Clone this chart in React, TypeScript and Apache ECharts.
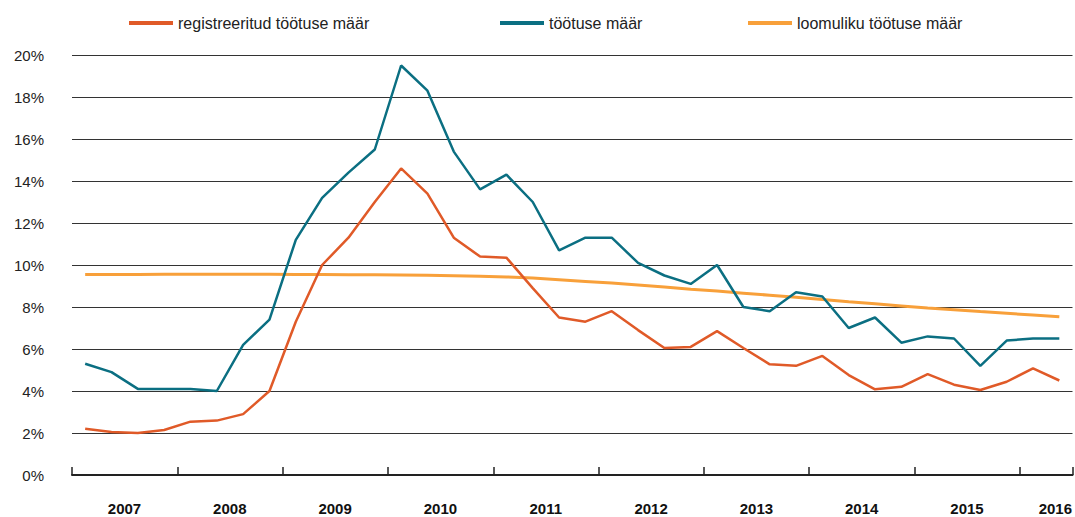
import React, { useEffect, useRef } from "react";
import * as echarts from "echarts";

const categories = [
  "2007 Q1", "2007 Q2", "2007 Q3", "2007 Q4",
  "2008 Q1", "2008 Q2", "2008 Q3", "2008 Q4",
  "2009 Q1", "2009 Q2", "2009 Q3", "2009 Q4",
  "2010 Q1", "2010 Q2", "2010 Q3", "2010 Q4",
  "2011 Q1", "2011 Q2", "2011 Q3", "2011 Q4",
  "2012 Q1", "2012 Q2", "2012 Q3", "2012 Q4",
  "2013 Q1", "2013 Q2", "2013 Q3", "2013 Q4",
  "2014 Q1", "2014 Q2", "2014 Q3", "2014 Q4",
  "2015 Q1", "2015 Q2", "2015 Q3", "2015 Q4",
  "2016 Q1", "2016 Q2",
];

const registeredUnemployment = [
  2.2, 2.05, 2.0, 2.14, 2.54, 2.59, 2.9, 4.0,
  7.3, 10.0, 11.3, 13.0, 14.6, 13.4, 11.3, 10.4,
  10.35, 8.9, 7.5, 7.3, 7.8, 6.9, 6.05, 6.1,
  6.85, 6.05, 5.27, 5.2, 5.67, 4.76, 4.08, 4.2,
  4.8, 4.3, 4.05, 4.44, 5.08, 4.5,
];

const unemployment = [
  5.3, 4.9, 4.1, 4.1, 4.1, 4.0, 6.2, 7.4,
  11.2, 13.2, 14.4, 15.5, 19.5, 18.3, 15.4, 13.6,
  14.3, 13.0, 10.7, 11.3, 11.3, 10.1, 9.5, 9.1,
  10.0, 8.0, 7.8, 8.7, 8.5, 7.0, 7.5, 6.3,
  6.6, 6.5, 5.2, 6.4, 6.5, 6.5,
];

const naturalUnemployment = [
  9.55, 9.55, 9.55, 9.56, 9.56, 9.56, 9.56, 9.56,
  9.55, 9.55, 9.54, 9.53, 9.52, 9.51, 9.49, 9.46,
  9.43, 9.38, 9.3, 9.22, 9.14, 9.05, 8.95, 8.85,
  8.76, 8.66, 8.56, 8.46, 8.36, 8.25, 8.15, 8.05,
  7.95, 7.87, 7.78, 7.7, 7.62, 7.54,
];

const seriesNames = [
  "registreeritud töötuse määr",
  "töötuse määr",
  "loomuliku töötuse määr",
];

const colors = ["#E05A28", "#0B6F82", "#F8A03A"];
const FONT = "'Liberation Sans', Arial, Helvetica, sans-serif";

export default function App() {
  const ref = useRef<HTMLDivElement>(null);

  useEffect(() => {
    if (!ref.current) return;
    const chart = echarts.init(ref.current, undefined, { renderer: "svg" });
    const legendLefts = [124, 495, 743];
    const option: any = {
      animation: false,
      backgroundColor: "#ffffff",
      textStyle: { fontFamily: FONT },
      legend: seriesNames.map((name, i) => ({
        data: [name],
        left: legendLefts[i],
        top: 10,
        icon: "rect",
        itemWidth: 44,
        itemHeight: 4,
        itemGap: 5,
        selectedMode: false,
        textStyle: { fontSize: 16, color: "#222", fontFamily: FONT },
      })),
      grid: { left: 72, right: 2, top: 55, bottom: 42, containLabel: false },
      xAxis: {
        type: "category",
        data: categories,
        boundaryGap: true,
        axisLine: { show: true, lineStyle: { color: "#222", width: 2 } },
        axisTick: {
          show: true,
          inside: true,
          length: 8,
          interval: (index: number) => index % 4 === 0,
          lineStyle: { color: "#222", width: 1.5 },
        },
        axisLabel: {
          interval: (index: number) => index % 4 === 1,
          hideOverlap: false,
          margin: 26,
          formatter: (value: string, index: number) => {
            const year = value.slice(0, 4);
            return index === categories.length - 1 ? `{e|${year}}` : `{y|${year}}`;
          },
          rich: {
            y: {
              fontSize: 15,
              fontWeight: "bold",
              color: "#111",
              fontFamily: FONT,
              padding: [0, 0, 0, 26],
            },
            e: {
              fontSize: 15,
              fontWeight: "bold",
              color: "#111",
              fontFamily: FONT,
              padding: [0, 8, 0, 0],
            },
          },
        },
        splitLine: { show: false },
      },
      yAxis: {
        type: "value",
        min: 0,
        max: 20,
        interval: 2,
        axisLine: { show: false },
        axisTick: { show: false },
        axisLabel: {
          formatter: (v: number) => `${v}%`,
          fontSize: 15,
          color: "#222",
          fontFamily: FONT,
          margin: 28,
        },
        splitLine: { show: true, lineStyle: { color: "#333", width: 1 } },
      },
      series: [
        {
          name: seriesNames[0],
          type: "line",
          data: registeredUnemployment,
          showSymbol: false,
          symbol: "none",
          lineStyle: { color: colors[0], width: 2.5 },
          itemStyle: { color: colors[0] },
          z: 3,
        },
        {
          name: seriesNames[1],
          type: "line",
          data: unemployment,
          showSymbol: false,
          symbol: "none",
          lineStyle: { color: colors[1], width: 2.5 },
          itemStyle: { color: colors[1] },
          z: 4,
        },
        {
          name: seriesNames[2],
          type: "line",
          data: naturalUnemployment,
          showSymbol: false,
          symbol: "none",
          lineStyle: { color: colors[2], width: 3 },
          itemStyle: { color: colors[2] },
          z: 2,
        },
      ],
    };
    chart.setOption(option);
    return () => chart.dispose();
  }, []);

  return (
    <div
      ref={ref}
      style={{ position: "absolute", left: 0, top: 0, width: 1075, height: 517 }}
    />
  );
}
